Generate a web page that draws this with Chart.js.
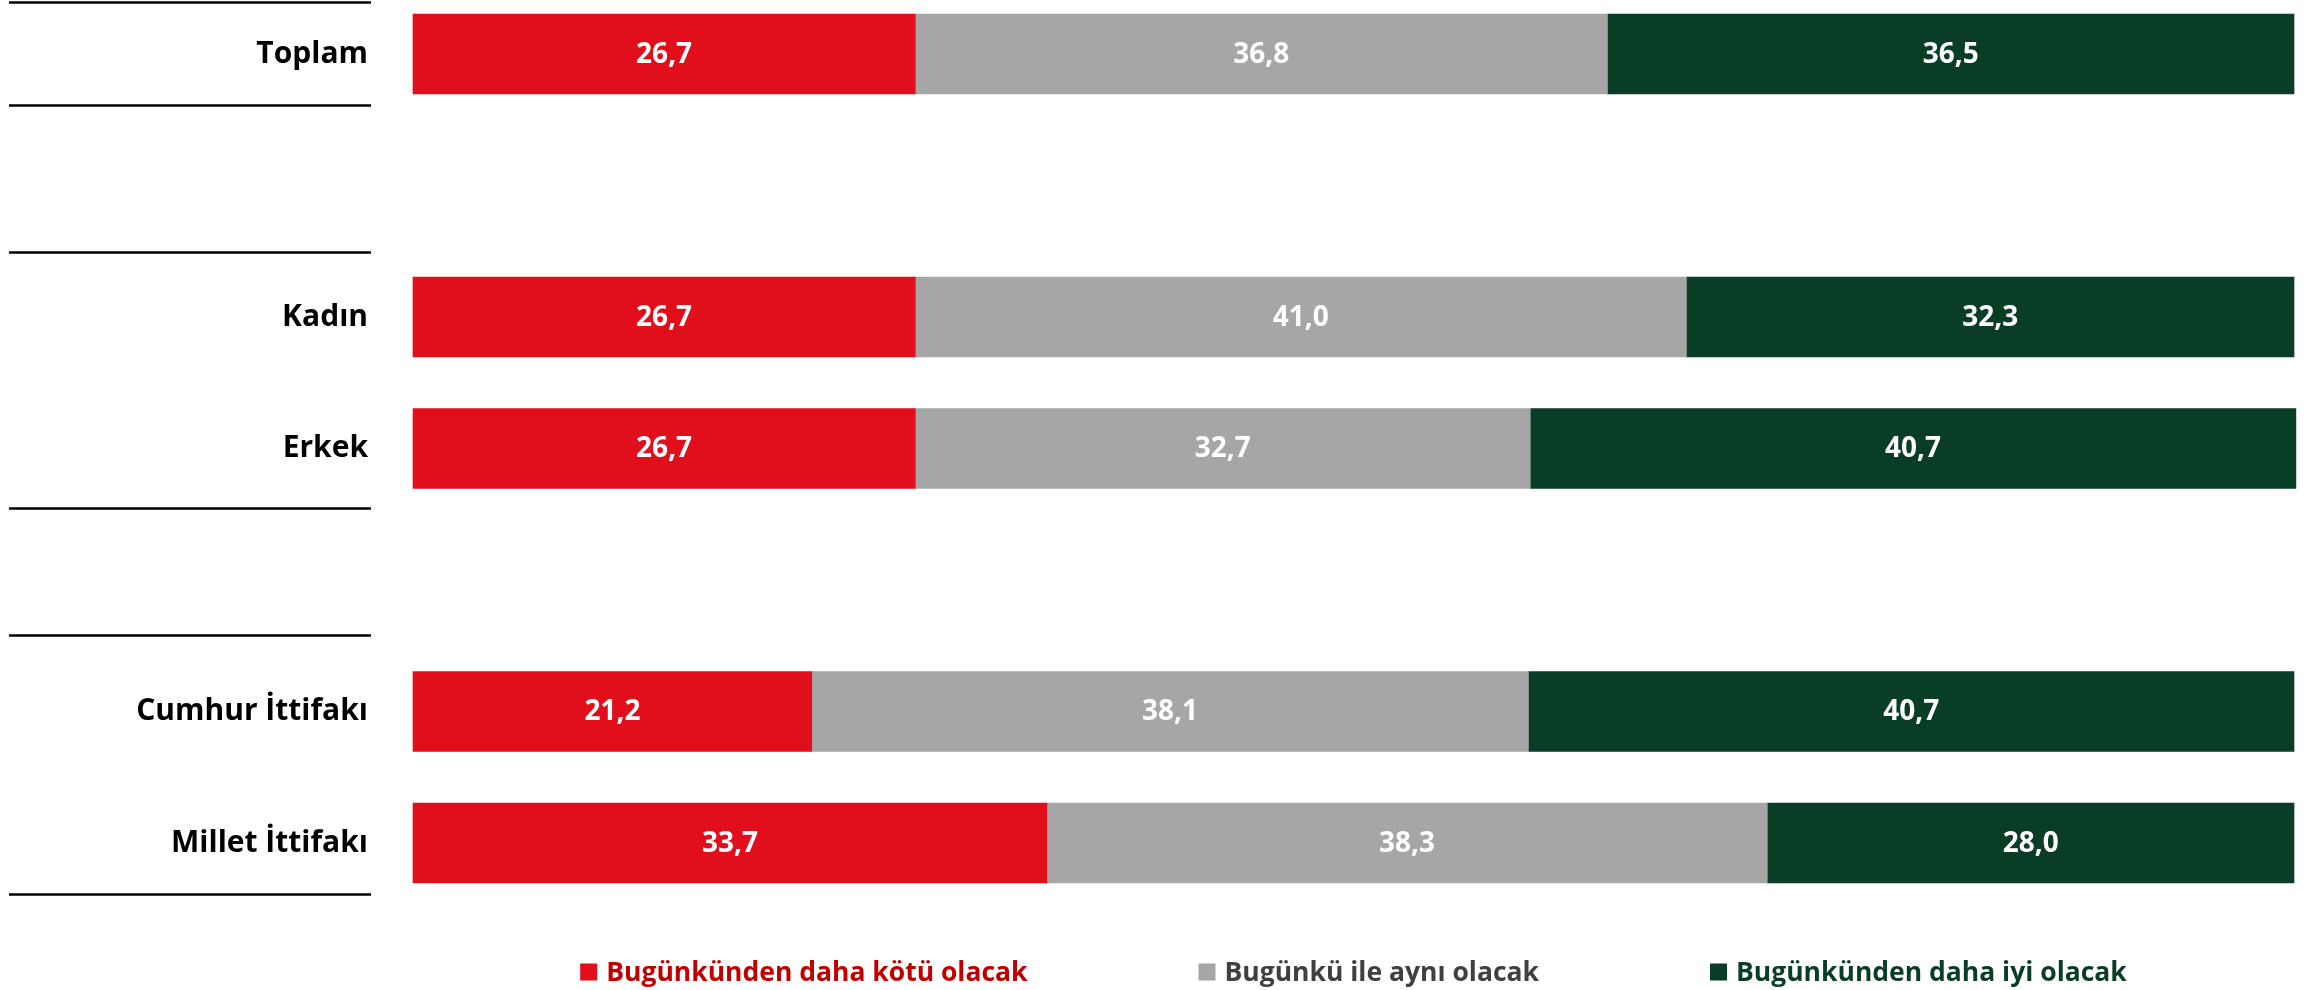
<!DOCTYPE html>
<html>
<head>
<meta charset="utf-8">
<script src="https://cdn.jsdelivr.net/npm/chart.js@4/dist/chart.umd.min.js"></script>
<style>
  html, body { margin: 0; padding: 0; background: #fff; }
  #wrap { position: relative; width: 2313px; height: 990px; }
</style>
</head>
<body>
<div id="wrap"><canvas id="c" width="2313" height="990"></canvas></div>
<script>
// ---- data ----
const categories = ["Toplam", "", "Kadın", "Erkek", "", "Cumhur İttifakı", "Millet İttifakı"];
const worse = [26.7, null, 26.7, 26.7, null, 21.2, 33.7];
const same  = [36.8, null, 41.0, 32.7, null, 38.1, 38.3];
const better = [36.5, null, 32.3, 40.7, null, 40.7, 28.0];
const seriesNames = ["Bugünkünden daha kötü olacak", "Bugünkü ile aynı olacak", "Bugünkünden daha iyi olacak"];
const seriesColors = ["#E10E1C", "#A6A6A6", "#0A3D26"];
const legendTextColors = ["#C00000", "#404040", "#0A3D26"];
// separator lines: [category index, offset as fraction of slot]
const separators = [[0, -0.395], [0, 0.39], [2, -0.494], [3, 0.456], [5, -0.578], [6, 0.388]];

const FONT = "'Open Sans', sans-serif";

const valueLabels = {
  id: 'valueLabels',
  afterDatasetsDraw(chart) {
    const ctx = chart.ctx;
    ctx.save();
    ctx.font = "bold 28px " + FONT;
    ctx.fillStyle = "#fff";
    ctx.textAlign = "center";
    ctx.textBaseline = "middle";
    chart.data.datasets.forEach((ds, i) => {
      const meta = chart.getDatasetMeta(i);
      meta.data.forEach((el, j) => {
        const v = ds.data[j];
        if (v == null) return;
        const p = el.getCenterPoint();
        ctx.fillText(v.toFixed(1).replace('.', ','), p.x, p.y + 1);
      });
    });
    ctx.restore();
  }
};

const decor = {
  id: 'decor',
  afterDraw(chart) {
    const ctx = chart.ctx;
    const ys = chart.scales.y;
    const slot = ys.getPixelForValue(1) - ys.getPixelForValue(0);
    ctx.save();
    ctx.strokeStyle = "#000";
    ctx.lineWidth = 2.5;
    separators.forEach(([idx, off]) => {
      const y = Math.round(ys.getPixelForValue(idx) + off * slot) + 0.5;
      ctx.beginPath();
      ctx.moveTo(9, y);
      ctx.lineTo(371, y);
      ctx.stroke();
    });
    // legend
    ctx.font = "bold 26.5px " + FONT;
    ctx.textBaseline = "middle";
    ctx.textAlign = "left";
    const box = 17, gap = 9, itemGap = 171;
    const widths = seriesNames.map(n => ctx.measureText(n).width);
    const total = widths.reduce((a, w) => a + box + gap + w, 0) + itemGap * (seriesNames.length - 1);
    const area = chart.chartArea;
    let x = (area.left + area.right) / 2 - total / 2;
    const yc = 972;
    seriesNames.forEach((n, i) => {
      ctx.fillStyle = seriesColors[i];
      ctx.fillRect(x, yc - box / 2, box, box);
      x += box + gap;
      ctx.fillStyle = legendTextColors[i];
      ctx.fillText(n, x, yc + 1);
      x += widths[i] + itemGap;
    });
    ctx.restore();
  }
};

const datasets = [worse, same, better].map((d, i) => ({
  label: seriesNames[i],
  data: d,
  backgroundColor: seriesColors[i],
  borderWidth: 0,
  barThickness: 80,
  clip: false
}));

new Chart(document.getElementById('c'), {
  type: 'bar',
  data: { labels: categories, datasets },
  options: {
    indexAxis: 'y',
    responsive: false,
    animation: false,
    layout: { padding: { top: 54, bottom: 147, left: 0, right: 19 } },
    plugins: { legend: { display: false }, tooltip: { enabled: false } },
    scales: {
      x: { stacked: true, min: 0, max: 100, display: false },
      y: {
        stacked: true,
        offset: false,
        grid: { display: false, drawTicks: false },
        border: { display: false },
        afterFit(scale) { scale.width = 413; scale.paddingTop = 0; scale.paddingBottom = 0; },
        ticks: {
          autoSkip: false,
          padding: 45,
          color: "#000",
          font: { family: FONT, weight: 'bold', size: 30 }
        }
      }
    }
  },
  plugins: [valueLabels, decor]
});
</script>
</body>
</html>
